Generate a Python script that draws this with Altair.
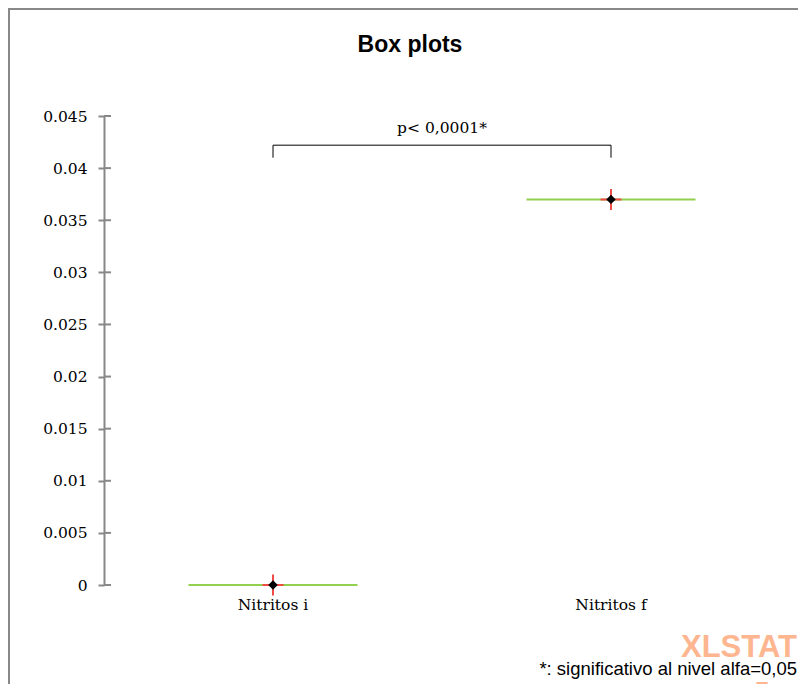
import altair as alt
import pandas as pd

# Summary statistics for each variable (all observations are identical,
# so the box collapses to a single line)
categories = ["Nitritos i", "Nitritos f"]
minimum = [0.0, 0.037]
q1 = [0.0, 0.037]
median = [0.0, 0.037]
q3 = [0.0, 0.037]
maximum = [0.0, 0.037]
mean = [0.0, 0.037]

y_ticks = [0, 0.005, 0.01, 0.015, 0.02, 0.025, 0.03, 0.035, 0.04, 0.045]

# Significance bracket between the two groups
bracket_top = 0.0422
bracket_bottom = 0.0410
bracket_label = "p< 0,0001*"
bracket_label_y = 0.0434

chart_title = "Box plots"
footnote = "*: significativo al nivel alfa=0,05"

PLOT_W, PLOT_H = 676, 469
PAD_L, PAD_T = 104, 116
SERIF = "DejaVu Serif"
SANS = "Liberation Sans"
GRAY = "#888888"

stats = pd.DataFrame({
    "var": categories, "min": minimum, "q1": q1, "median": median,
    "q3": q3, "max": maximum, "mean": mean,
})
ticks_df = pd.DataFrame({"v": y_ticks})
bracket_df = pd.DataFrame({"a": [categories[0]], "b": [categories[1]],
                           "top": [bracket_top], "bottom": [bracket_bottom]})
ends_df = pd.DataFrame({"var": categories, "top": [bracket_top] * 2,
                        "bottom": [bracket_bottom] * 2})
label_df = pd.DataFrame({"label": [bracket_label], "y": [bracket_label_y]})

x_scale = alt.Scale(domain=categories, paddingInner=0, paddingOuter=0)
y_scale = alt.Scale(domain=[0, 0.045], nice=False, zero=True)

x_enc = alt.X("var:N", scale=x_scale, sort=categories, title=None,
              axis=alt.Axis(domain=False, ticks=False, tickSize=0, labelAngle=0,
                            labelFont=SERIF, labelFontSize=15.5, labelColor="#000",
                            labelBaseline="alphabetic", labelPadding=24))
y_enc = alt.Y("q1:Q", scale=y_scale, title=None,
              axis=alt.Axis(values=y_ticks, format=".3~f", grid=False,
                            domainColor=GRAY, domainWidth=2,
                            tickColor=GRAY, tickWidth=2, tickSize=6,
                            labelPadding=11, labelFont=SERIF, labelFontSize=15.5,
                            labelColor="#000"))

# Outer frame around the whole figure
frame = alt.Chart(pd.DataFrame({"k": [0]})).mark_rect(
    fill=None, stroke=GRAY, strokeWidth=2
).encode(
    x=alt.value(9 - PAD_L), x2=alt.value(PLOT_W + 40),
    y=alt.value(9 - PAD_T), y2=alt.value(PLOT_H + 140),
)

# Right half of the y-axis tick marks (ticks cross the axis line)
tick_right = alt.Chart(ticks_df).mark_rule(color=GRAY, strokeWidth=2).encode(
    y=alt.Y("v:Q", scale=y_scale), x=alt.value(0), x2=alt.value(7)
)

boxes = alt.Chart(stats).mark_bar(
    color="#92D050", stroke="#92D050", strokeWidth=2,
    width=alt.RelativeBandSize(0.5)
).encode(x=x_enc, y=y_enc, y2="q3:Q")

mean_cross = alt.Chart(stats).mark_point(
    shape="M-1,0L1,0M0,-1L0,1", size=441, filled=False,
    stroke="#EE4B45", strokeWidth=2, opacity=1
).encode(x=alt.X("var:N", scale=x_scale, sort=categories),
         y=alt.Y("mean:Q", scale=y_scale))

mean_dot = alt.Chart(stats).mark_point(
    shape="diamond", size=90, filled=True, color="#000000", opacity=1
).encode(x=alt.X("var:N", scale=x_scale, sort=categories),
         y=alt.Y("median:Q", scale=y_scale))

bracket_h = alt.Chart(bracket_df).mark_rule(color="#000", strokeWidth=1).encode(
    x=alt.X("a:N", scale=x_scale, sort=categories),
    x2="b:N",
    y=alt.Y("top:Q", scale=y_scale),
)
bracket_v = alt.Chart(ends_df).mark_rule(color="#000", strokeWidth=1).encode(
    x=alt.X("var:N", scale=x_scale, sort=categories),
    y=alt.Y("top:Q", scale=y_scale), y2="bottom:Q",
)
bracket_txt = alt.Chart(label_df).mark_text(
    font=SERIF, fontSize=15.5, color="#000", baseline="alphabetic", align="center"
).encode(x=alt.value(PLOT_W / 2), y=alt.Y("y:Q", scale=y_scale), text="label:N")

title_mark = alt.Chart(pd.DataFrame({"t": [chart_title]})).mark_text(
    font=SANS, fontSize=23, fontWeight="bold", color="#000",
    align="center", baseline="alphabetic"
).encode(x=alt.value(410 - PAD_L), y=alt.value(52 - PAD_T), text="t:N")

watermark = alt.Chart(pd.DataFrame({"t": ["XLSTAT", "Free"],
                                    "px": [681 - PAD_L, 755 - PAD_L],
                                    "py": [657 - PAD_T, 697 - PAD_T],
                                    "fs": [31, 22]})).mark_text(
    font=SANS, fontWeight="bold", color="#FDB690", align="left",
    baseline="alphabetic"
).encode(x=alt.X("px:Q", scale=None), y=alt.Y("py:Q", scale=None),
         text="t:N", size=alt.Size("fs:Q", scale=None, legend=None))

note = alt.Chart(pd.DataFrame({"t": [footnote]})).mark_text(
    font=SANS, fontSize=18.5, color="#000", align="right", baseline="alphabetic"
).encode(x=alt.value(797 - PAD_L), y=alt.value(675 - PAD_T), text="t:N")

chart = alt.layer(
    frame, tick_right, boxes, mean_cross, mean_dot,
    bracket_h, bracket_v, bracket_txt, title_mark, watermark, note
).properties(
    width=PLOT_W, height=PLOT_H,
    autosize=alt.AutoSizeParams(type="none"),
    padding={"left": PAD_L, "top": PAD_T, "right": 798 - PAD_L - PLOT_W,
             "bottom": 684 - PAD_T - PLOT_H},
).configure_view(strokeWidth=0, stroke=None)

chart.save("out.html", embed_options={"renderer": "svg", "actions": False})
